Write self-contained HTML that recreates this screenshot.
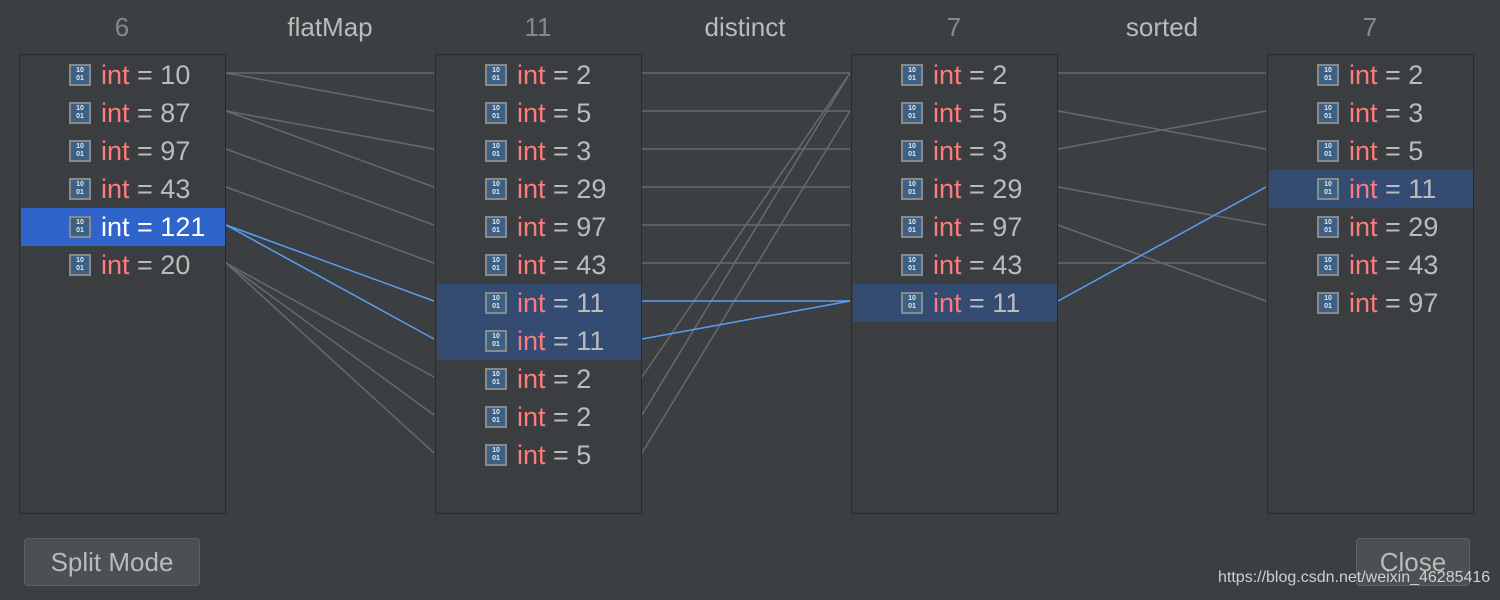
<!DOCTYPE html>
<html><head><meta charset="utf-8"><style>
body{margin:0;width:1500px;height:600px;background:#3c3f41;position:relative;overflow:hidden;font-family:"Liberation Sans",sans-serif}
.h{position:absolute;top:12px;font-size:26px;transform:translateX(-50%);color:#bbbbbb}
.n{color:#888}
.box{position:absolute;top:54px;width:205px;height:458px;border:1px solid #2b2b2b;background:#3b3e40}
.r{position:absolute;left:1px;width:204px;height:38px;line-height:38px;font-size:27px;color:#bbbbbb;white-space:nowrap}
.r .i{position:absolute;left:48px;top:8px;width:18px;height:17px;border:2px solid #8a8a8a;background:#3d6185;color:#e8e8e8;font-size:7px;line-height:8px;text-align:center;font-weight:bold;padding-top:1px;box-sizing:content-box}
.r .t{position:absolute;left:80px}
.k{color:#ff7b7b}
.sel{background:#344b72}
.sel2{background:#2f65ca;color:#fff}
.sel2 .k{color:#fff}
svg{position:absolute;left:0;top:0}
.btn{position:absolute;top:538px;height:46px;border:1px solid #5e6264;border-radius:4px;background:#4c5052;color:#bbbbbb;font-size:26px;line-height:46px;text-align:center}
.wm{position:absolute;left:1218px;top:569px;font-size:16px;color:#d0d0d0}
</style></head><body>
<div class="h n" style="left:122px">6</div>
<div class="h" style="left:330px">flatMap</div>
<div class="h n" style="left:538px">11</div>
<div class="h" style="left:745px">distinct</div>
<div class="h n" style="left:954px">7</div>
<div class="h" style="left:1162px">sorted</div>
<div class="h n" style="left:1370px">7</div>

<svg width="1500" height="600" stroke-width="1.5">
<g stroke="#68696b">
<line x1="226" y1="73" x2="434" y2="73"/><line x1="226" y1="73" x2="434" y2="111"/>
<line x1="226" y1="111" x2="434" y2="149"/><line x1="226" y1="111" x2="434" y2="187"/>
<line x1="226" y1="149" x2="434" y2="225"/>
<line x1="226" y1="187" x2="434" y2="263"/>
<line x1="226" y1="263" x2="434" y2="377"/><line x1="226" y1="263" x2="434" y2="415"/><line x1="226" y1="263" x2="434" y2="453"/>
<line x1="642" y1="73" x2="850" y2="73"/><line x1="642" y1="111" x2="850" y2="111"/><line x1="642" y1="149" x2="850" y2="149"/>
<line x1="642" y1="187" x2="850" y2="187"/><line x1="642" y1="225" x2="850" y2="225"/><line x1="642" y1="263" x2="850" y2="263"/>
<line x1="642" y1="377" x2="850" y2="73"/><line x1="642" y1="415" x2="850" y2="73"/><line x1="642" y1="453" x2="850" y2="111"/>
<line x1="1058" y1="73" x2="1266" y2="73"/><line x1="1058" y1="111" x2="1266" y2="149"/><line x1="1058" y1="149" x2="1266" y2="111"/>
<line x1="1058" y1="187" x2="1266" y2="225"/><line x1="1058" y1="225" x2="1266" y2="301"/><line x1="1058" y1="263" x2="1266" y2="263"/>
</g>
<g stroke="#589df6">
<line x1="226" y1="225" x2="434" y2="301"/><line x1="226" y1="225" x2="434" y2="339"/>
<line x1="642" y1="301" x2="850" y2="301"/><line x1="642" y1="339" x2="850" y2="301"/>
<line x1="1058" y1="301" x2="1266" y2="187"/>
</g>
</svg>

<div class="box" style="left:19px">
<div class="r" style="top:1px"><span class="i">10<br>01</span><span class="t"><span class="k">int</span> = 10</span></div>
<div class="r" style="top:39px"><span class="i">10<br>01</span><span class="t"><span class="k">int</span> = 87</span></div>
<div class="r" style="top:77px"><span class="i">10<br>01</span><span class="t"><span class="k">int</span> = 97</span></div>
<div class="r" style="top:115px"><span class="i">10<br>01</span><span class="t"><span class="k">int</span> = 43</span></div>
<div class="r sel2" style="top:153px"><span class="i">10<br>01</span><span class="t"><span class="k">int</span> = 121</span></div>
<div class="r" style="top:191px"><span class="i">10<br>01</span><span class="t"><span class="k">int</span> = 20</span></div>
</div>

<div class="box" style="left:435px">
<div class="r" style="top:1px"><span class="i">10<br>01</span><span class="t"><span class="k">int</span> = 2</span></div>
<div class="r" style="top:39px"><span class="i">10<br>01</span><span class="t"><span class="k">int</span> = 5</span></div>
<div class="r" style="top:77px"><span class="i">10<br>01</span><span class="t"><span class="k">int</span> = 3</span></div>
<div class="r" style="top:115px"><span class="i">10<br>01</span><span class="t"><span class="k">int</span> = 29</span></div>
<div class="r" style="top:153px"><span class="i">10<br>01</span><span class="t"><span class="k">int</span> = 97</span></div>
<div class="r" style="top:191px"><span class="i">10<br>01</span><span class="t"><span class="k">int</span> = 43</span></div>
<div class="r sel" style="top:229px"><span class="i">10<br>01</span><span class="t"><span class="k">int</span> = 11</span></div>
<div class="r sel" style="top:267px"><span class="i">10<br>01</span><span class="t"><span class="k">int</span> = 11</span></div>
<div class="r" style="top:305px"><span class="i">10<br>01</span><span class="t"><span class="k">int</span> = 2</span></div>
<div class="r" style="top:343px"><span class="i">10<br>01</span><span class="t"><span class="k">int</span> = 2</span></div>
<div class="r" style="top:381px"><span class="i">10<br>01</span><span class="t"><span class="k">int</span> = 5</span></div>
</div>

<div class="box" style="left:851px">
<div class="r" style="top:1px"><span class="i">10<br>01</span><span class="t"><span class="k">int</span> = 2</span></div>
<div class="r" style="top:39px"><span class="i">10<br>01</span><span class="t"><span class="k">int</span> = 5</span></div>
<div class="r" style="top:77px"><span class="i">10<br>01</span><span class="t"><span class="k">int</span> = 3</span></div>
<div class="r" style="top:115px"><span class="i">10<br>01</span><span class="t"><span class="k">int</span> = 29</span></div>
<div class="r" style="top:153px"><span class="i">10<br>01</span><span class="t"><span class="k">int</span> = 97</span></div>
<div class="r" style="top:191px"><span class="i">10<br>01</span><span class="t"><span class="k">int</span> = 43</span></div>
<div class="r sel" style="top:229px"><span class="i">10<br>01</span><span class="t"><span class="k">int</span> = 11</span></div>
</div>

<div class="box" style="left:1267px">
<div class="r" style="top:1px"><span class="i">10<br>01</span><span class="t"><span class="k">int</span> = 2</span></div>
<div class="r" style="top:39px"><span class="i">10<br>01</span><span class="t"><span class="k">int</span> = 3</span></div>
<div class="r" style="top:77px"><span class="i">10<br>01</span><span class="t"><span class="k">int</span> = 5</span></div>
<div class="r sel" style="top:115px"><span class="i">10<br>01</span><span class="t"><span class="k">int</span> = 11</span></div>
<div class="r" style="top:153px"><span class="i">10<br>01</span><span class="t"><span class="k">int</span> = 29</span></div>
<div class="r" style="top:191px"><span class="i">10<br>01</span><span class="t"><span class="k">int</span> = 43</span></div>
<div class="r" style="top:229px"><span class="i">10<br>01</span><span class="t"><span class="k">int</span> = 97</span></div>
</div>

<div class="btn" style="left:24px;width:174px">Split Mode</div>
<div class="btn" style="left:1356px;width:112px">Close</div>
<div class="wm">https://blog.csdn.net/weixin_46285416</div>
</body></html>
